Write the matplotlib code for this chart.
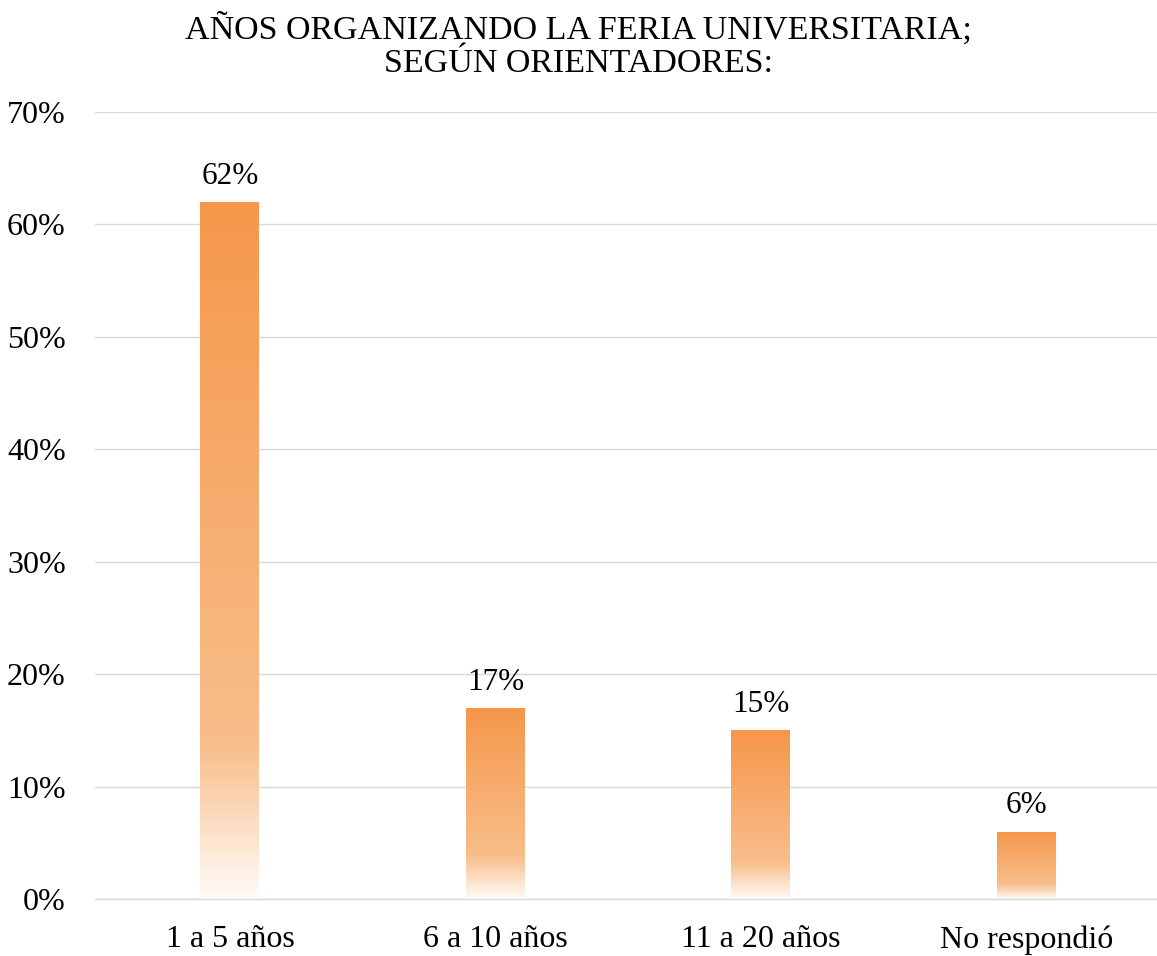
import matplotlib
matplotlib.use("Agg")
import matplotlib.pyplot as plt
import numpy as np
from matplotlib.colors import LinearSegmentedColormap
from matplotlib.ticker import FuncFormatter

categories = ["1 a 5 años", "6 a 10 años", "11 a 20 años", "No respondió"]
values = [62, 17, 15, 6]
title = "AÑOS ORGANIZANDO LA FERIA UNIVERSITARIA;\nSEGÚN ORIENTADORES:"

plt.rcParams["font.family"] = ["Liberation Serif", "DejaVu Serif"]

# gradient from top (0) to bottom (1) of each bar
grad = LinearSegmentedColormap.from_list(
    "bar_grad",
    [(0.0, "#F5974A"), (0.78, "#F8BE8B"), (1.0, "#FFFBF7")],
)

fig = plt.figure(figsize=(11.57, 9.56), dpi=100)
ax = fig.add_axes([0.0821, 0.0596, 0.918, 0.8232])

x = np.arange(len(categories))
bars = ax.bar(x, values, width=0.222, color="none", edgecolor="none", zorder=2)

ramp = np.linspace(0, 1, 256).reshape(-1, 1)
for bar in bars:
    x0, w, h = bar.get_x(), bar.get_width(), bar.get_height()
    im = ax.imshow(ramp, cmap=grad, aspect="auto", origin="upper",
                   extent=[x0, x0 + w, 0, h], zorder=2, interpolation="bilinear")
    im.set_clip_path(bar)
    ax.annotate(f"{h:.0f}%", (x0 + w / 2, h), xytext=(0, 8),
                textcoords="offset points", ha="center", va="bottom",
                fontsize=22.5)

ax.set_xlim(-0.508, len(categories) - 0.508)
ax.set_ylim(0, 70)
ax.set_yticks(range(0, 71, 10))
ax.yaxis.set_major_formatter(FuncFormatter(lambda v, _: f"{v:.0f}%"))
ax.set_xticks(x)
ax.set_xticklabels(categories)
ax.tick_params(axis="both", length=0, labelsize=23)
ax.tick_params(axis="y", pad=21)
ax.tick_params(axis="x", pad=19)

ax.grid(axis="y", color="#D9D9D9", linewidth=1, zorder=0)
ax.set_axisbelow(True)
for side in ["top", "right", "left"]:
    ax.spines[side].set_visible(False)
ax.spines["bottom"].set_color("#D9D9D9")
ax.spines["bottom"].set_linewidth(1)

fig.text(0.5, 1 - 46 / 956, title, ha="center", va="center",
         fontsize=24.5, linespacing=1.1)

fig.savefig("out.png", dpi=100)
plt.close(fig)
